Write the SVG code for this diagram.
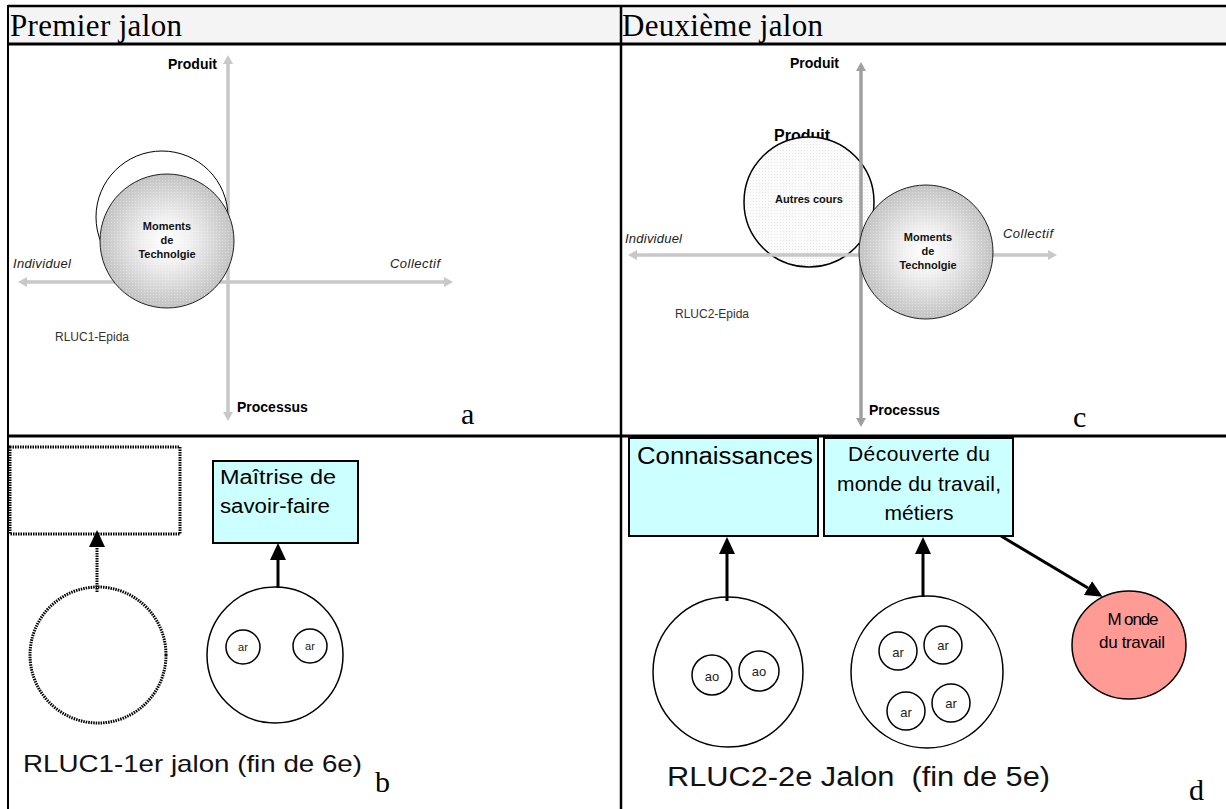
<svg xmlns="http://www.w3.org/2000/svg" width="1226" height="809" viewBox="0 0 1226 809">
<defs>
<radialGradient id="gGray" cx="50%" cy="50%" r="50%">
<stop offset="0" stop-color="#ffffff"/>
<stop offset="0.35" stop-color="#f0f0f0"/>
<stop offset="1" stop-color="#c2c2c2"/>
</radialGradient>
<pattern id="dots" width="3" height="3" patternUnits="userSpaceOnUse">
<rect x="0" y="0" width="1" height="1" fill="#ffffff" opacity="0.35"/>
</pattern>
<pattern id="dotsLight" width="3" height="3" patternUnits="userSpaceOnUse">
<rect width="3" height="3" fill="#fbfbfb"/>
<rect x="0" y="0" width="1" height="1" fill="#e6e6e6"/>
</pattern>
<marker id="axL" markerUnits="userSpaceOnUse" markerWidth="10" markerHeight="10" refX="0" refY="5" orient="auto">
<path d="M0,0 L9,5 L0,10 Z" fill="#c8c8c8"/>
</marker>
<marker id="axD" markerUnits="userSpaceOnUse" markerWidth="10" markerHeight="10" refX="0" refY="5" orient="auto">
<path d="M0,0 L9,5 L0,10 Z" fill="#a0a0a0"/>
</marker>
<marker id="arr" markerUnits="userSpaceOnUse" markerWidth="17" markerHeight="16" refX="0" refY="8" orient="auto">
<path d="M0,0 L17,8 L0,16 Z" fill="#000"/>
</marker>
<style>
.serif{font-family:"Liberation Serif","Times New Roman",serif;fill:#000}
.sans{font-family:"Liberation Sans",Arial,sans-serif;fill:#000}
.hdr{font-size:31px}
.ax{font-size:14px;font-weight:bold}
.it{font-size:13px;font-style:italic;fill:#222}
.mt{font-size:11px;font-weight:bold;text-anchor:middle;fill:#111}
.small{font-size:12px;fill:#333}
.tag{font-size:30px}
.axisL{stroke:#c8c8c8;stroke-width:3;fill:none}
.axisD{stroke:#a0a0a0;stroke-width:3;fill:none}
.grid{stroke:#000;fill:none}
.box{fill:#ccffff;stroke:#000;stroke-width:2}
.big{fill:#fff;stroke:#000;stroke-width:1.5}
.sm{fill:#fff;stroke:#000;stroke-width:1.5}
.lbl{font-size:11px;text-anchor:middle;fill:#222}
.lbl2{font-size:13px;text-anchor:middle;fill:#222}
.conn{stroke:#000;stroke-width:3;fill:none}
.dotted{stroke:#000;stroke-width:3;stroke-dasharray:1.5 1;fill:none}
.cap{fill:#111;white-space:pre}
</style>
</defs>
<rect width="1226" height="809" fill="#fff"/>

<!-- table -->
<g id="table">
<rect x="8" y="6" width="1218" height="38" fill="#f4f4f4"/>
<line class="grid" x1="8" y1="6" x2="1226" y2="6" stroke-width="2.5"/>
<line class="grid" x1="8" y1="44" x2="1226" y2="44" stroke-width="3"/>
<line class="grid" x1="8" y1="5" x2="8" y2="809" stroke-width="2"/>
<line class="grid" x1="621" y1="5" x2="621" y2="809" stroke-width="2.5"/>
<line class="grid" x1="8" y1="436" x2="1226" y2="436" stroke-width="3"/>
<text class="serif hdr" x="10" y="36" textLength="172">Premier jalon</text>
<text class="serif hdr" x="622" y="36" textLength="201">Deuxième jalon</text>
</g>

<!-- panel a -->
<g id="panel-a">
<line class="axisL" x1="228" y1="412" x2="228" y2="64" marker-end="url(#axL)"/>
<line class="axisL" x1="228" y1="64" x2="228" y2="412" marker-end="url(#axL)"/>
<line class="axisL" x1="27" y1="282" x2="444" y2="282" marker-end="url(#axL)"/>
<line class="axisL" x1="444" y1="282" x2="27" y2="282" marker-end="url(#axL)"/>
<text class="sans ax" x="217" y="69" text-anchor="end">Produit</text>
<text class="sans ax" x="237" y="412">Processus</text>
<text class="sans it" x="13" y="268" textLength="58">Individuel</text>
<text class="sans it" x="390" y="268" textLength="50">Collectif</text>
<text class="sans small" x="55" y="341">RLUC1-Epida</text>
<text class="serif tag" x="461" y="424">a</text>
</g>
<g id="a-circle-outline">
<circle cx="162" cy="217" r="66" fill="#fff" stroke="#000" stroke-width="1"/>
</g>
<g id="a-moments">
<circle cx="167" cy="241" r="67" fill="url(#gGray)" stroke="#222" stroke-width="1"/>
<circle cx="167" cy="241" r="66" fill="url(#dots)"/>
<text class="sans mt" x="167" y="230">Moments</text>
<text class="sans mt" x="167" y="244">de</text>
<text class="sans mt" x="167" y="258">Technolgie</text>
</g>

<!-- panel c -->
<g id="c-produit-label">
<text class="sans" x="774" y="141" font-size="16" font-weight="bold">Produit</text>
</g>
<g id="c-autres">
<circle cx="809" cy="202" r="65" fill="url(#dotsLight)" stroke="#000" stroke-width="1.5"/>
<text class="sans mt" x="809" y="203" font-size="10.5">Autres cours</text>
</g>
<g id="panel-c">
<line class="axisD" x1="861" y1="418" x2="861" y2="71" marker-end="url(#axD)"/>
<line class="axisD" x1="861" y1="71" x2="861" y2="418" marker-end="url(#axD)"/>
<line class="axisL" x1="637" y1="255" x2="1048" y2="255" marker-end="url(#axL)"/>
<line class="axisL" x1="1048" y1="255" x2="637" y2="255" marker-end="url(#axL)"/>
<text class="sans ax" x="839" y="68" text-anchor="end">Produit</text>
<text class="sans ax" x="869" y="415">Processus</text>
<text class="sans it" x="625" y="243" textLength="57">Individuel</text>
<text class="sans it" x="1003" y="238" textLength="50">Collectif</text>
<text class="sans small" x="675" y="318">RLUC2-Epida</text>
<text class="serif tag" x="1073" y="427">c</text>
</g>
<g id="c-moments">
<circle cx="926" cy="252" r="67" fill="url(#gGray)" stroke="#222" stroke-width="1"/>
<circle cx="926" cy="252" r="66" fill="url(#dots)"/>
<text class="sans mt" x="928" y="241">Moments</text>
<text class="sans mt" x="928" y="255">de</text>
<text class="sans mt" x="928" y="269">Technolgie</text>
</g>

<!-- panel b -->
<g id="b-empty-box">
<rect class="dotted" x="10" y="447" width="170" height="87"/>
</g>
<g id="b-maitrise">
<rect class="box" x="213" y="461" width="145" height="82" stroke-width="1.5"/>
<text class="sans" x="220" y="484" font-size="20" fill="#222" textLength="116" lengthAdjust="spacingAndGlyphs">Maîtrise de</text>
<text class="sans" x="220" y="513" font-size="20" fill="#222" textLength="110" lengthAdjust="spacingAndGlyphs">savoir-faire</text>
</g>
<g id="b-dotted-circle">
<circle class="dotted" cx="98" cy="655" r="68"/>
</g>
<g id="b-circle">
<circle class="big" cx="275" cy="655" r="68"/>
<circle class="sm" cx="243" cy="647" r="17"/>
<text class="sans lbl" x="243" y="651">ar</text>
<circle class="sm" cx="310" cy="646" r="17"/>
<text class="sans lbl" x="310" y="650">ar</text>
</g>
<text class="sans cap" x="23" y="772" font-size="24" textLength="339" lengthAdjust="spacingAndGlyphs">RLUC1-1er jalon (fin de 6e)</text>
<text class="serif tag" x="375" y="792">b</text>

<!-- panel d -->
<g id="d-connaissances">
<rect class="box" x="629" y="438" width="189" height="98"/>
<text class="sans" x="637" y="464" font-size="23" fill="#111" textLength="176" lengthAdjust="spacingAndGlyphs">Connaissances</text>
</g>
<g id="d-decouverte">
<rect class="box" x="824" y="438" width="189" height="98"/>
<text class="sans" x="919" y="461" font-size="21" text-anchor="middle" fill="#111" textLength="142">Découverte du</text>
<text class="sans" x="919" y="491" font-size="21" text-anchor="middle" fill="#111" textLength="164">monde du travail,</text>
<text class="sans" x="919" y="520" font-size="21" text-anchor="middle" fill="#111" textLength="69">métiers</text>
</g>
<g id="d-ao-circle">
<circle class="big" cx="728" cy="672" r="75"/>
<circle class="sm" cx="712" cy="675" r="20"/>
<text class="sans lbl2" x="712" y="681">ao</text>
<circle class="sm" cx="759" cy="671" r="20"/>
<text class="sans lbl2" x="759" y="676">ao</text>
</g>
<g id="d-ar-circle">
<circle class="big" cx="927" cy="672" r="76"/>
<circle class="sm" cx="898" cy="651" r="19"/>
<text class="sans lbl2" x="898" y="657">ar</text>
<circle class="sm" cx="943" cy="645" r="19"/>
<text class="sans lbl2" x="943" y="650">ar</text>
<circle class="sm" cx="906" cy="711" r="19"/>
<text class="sans lbl2" x="906" y="717">ar</text>
<circle class="sm" cx="951" cy="703" r="19"/>
<text class="sans lbl2" x="951" y="708">ar</text>
</g>
<g id="d-monde">
<ellipse cx="1129" cy="645" rx="57" ry="54" fill="#ff9a94" stroke="#000" stroke-width="1.5"/>
<text class="sans" x="1133" y="625" font-size="17" text-anchor="middle" fill="#222" textLength="51">M onde</text>
<text class="sans" x="1132" y="648" font-size="17" text-anchor="middle" fill="#222" textLength="66">du travail</text>
</g>
<text class="sans cap" x="667" y="786" font-size="27" textLength="383" lengthAdjust="spacingAndGlyphs">RLUC2-2e Jalon  (fin de 5e)</text>
<text class="serif tag" x="1189" y="800">d</text>

<!-- connectors -->
<g id="connectors">
<line class="dotted" x1="97" y1="592" x2="97" y2="547" marker-end="url(#arr)"/>
<line class="conn" x1="278" y1="588" x2="278" y2="560" marker-end="url(#arr)"/>
<line class="conn" x1="727" y1="601" x2="727" y2="554" marker-end="url(#arr)"/>
<line class="conn" x1="923" y1="597" x2="923" y2="554" marker-end="url(#arr)"/>
<line class="conn" x1="1001" y1="536" x2="1088" y2="588" marker-end="url(#arr)"/>
</g>
</svg>
